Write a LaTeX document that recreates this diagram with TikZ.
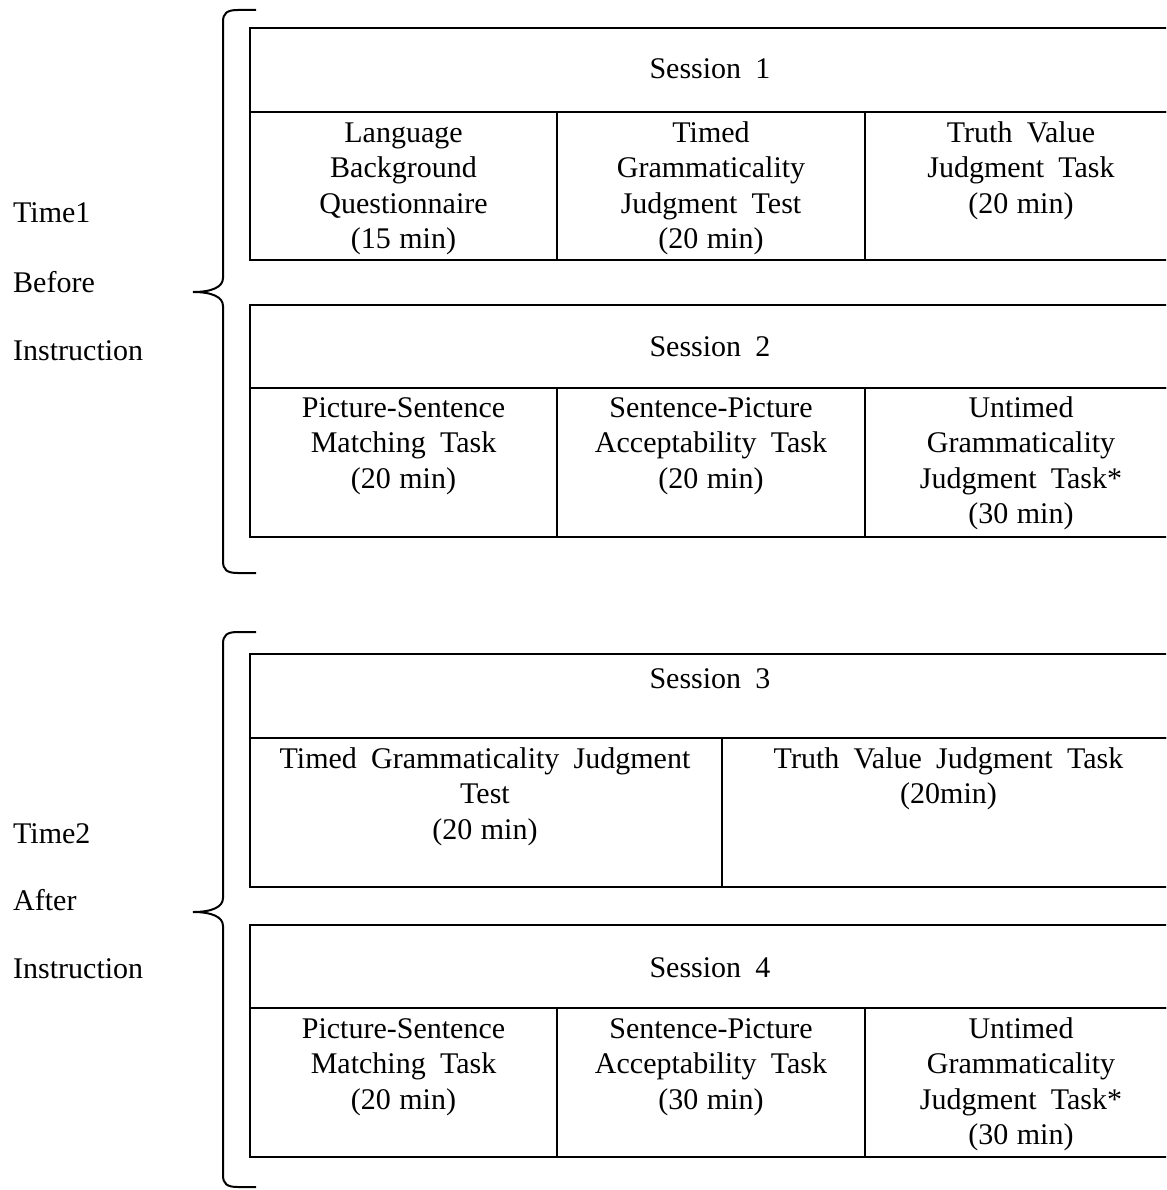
\documentclass[tikz,border=0pt]{standalone}
\usepackage{fontspec}
\setmainfont{Liberation Serif}[WordSpace=1.9]
\newcommand{\firststrut}{\rule{0pt}{24pt}}
\newcommand{\minsp}{\hspace{0.28em}}
\begin{document}
\begin{tikzpicture}[x=1pt,y=-1pt,
  box/.style={draw,line width=2pt,inner sep=0pt,outer sep=0pt,anchor=north west,rectangle},
  celltext/.style={inner sep=0pt,anchor=north,align=center,font=\fontsize{30}{35.5}\selectfont},
  title/.style={inner sep=0pt,anchor=base,font=\fontsize{30}{36}\selectfont},
  side/.style={inner sep=0pt,anchor=base west,font=\fontsize{30}{36}\selectfont},
  brace/.style={draw,line width=2pt}]
\useasboundingbox (0,0) rectangle (1166,1190);
\clip (0,0) rectangle (1166,1190);

% ---------- Session 1 ----------
\node[box,minimum width=925pt,minimum height=84pt] (h1) at (250,28) {};
\node[box,minimum width=307pt,minimum height=148pt] (s1a) at (250,112) {};
\node[box,minimum width=308pt,minimum height=148pt] (s1b) at (557,112) {};
\node[box,minimum width=310pt,minimum height=148pt] (s1c) at (865,112) {};
\node[title] (t1) at (710,79) {Session 1};
\node[celltext] (c1a) at (403.5,118) {\firststrut Language\\Background\\Questionnaire\\(15\minsp min)};
\node[celltext] (c1b) at (711,118) {\firststrut Timed\\Grammaticality\\Judgment Test\\(20\minsp min)};
\node[celltext] (c1c) at (1021,118) {\firststrut Truth Value\\Judgment Task\\(20\minsp min)};

% ---------- Session 2 ----------
\node[box,minimum width=925pt,minimum height=83pt] (h2) at (250,305) {};
\node[box,minimum width=307pt,minimum height=149pt] (s2a) at (250,388) {};
\node[box,minimum width=308pt,minimum height=149pt] (s2b) at (557,388) {};
\node[box,minimum width=310pt,minimum height=149pt] (s2c) at (865,388) {};
\node[title] (t2) at (710,356) {Session 2};
\node[celltext] (c2a) at (403.5,393) {\firststrut Picture-Sentence\\Matching Task\\(20\minsp min)};
\node[celltext] (c2b) at (711,393) {\firststrut Sentence-Picture\\Acceptability Task\\(20\minsp min)};
\node[celltext] (c2c) at (1021,393) {\firststrut Untimed\\Grammaticality\\Judgment Task*\\(30\minsp min)};

% ---------- Session 3 ----------
\node[box,minimum width=925pt,minimum height=84pt] (h3) at (250,654) {};
\node[box,minimum width=472pt,minimum height=149pt] (s3a) at (250,738) {};
\node[box,minimum width=453pt,minimum height=149pt] (s3b) at (722,738) {};
\node[title] (t3) at (710,688) {Session 3};
\node[celltext] (c3a) at (485,744) {\firststrut Timed Grammaticality Judgment\\Test\\(20\minsp min)};
\node[celltext] (c3b) at (948.5,744) {\firststrut Truth Value Judgment Task\\(20min)};

% ---------- Session 4 ----------
\node[box,minimum width=925pt,minimum height=83pt] (h4) at (250,925) {};
\node[box,minimum width=307pt,minimum height=149pt] (s4a) at (250,1008) {};
\node[box,minimum width=308pt,minimum height=149pt] (s4b) at (557,1008) {};
\node[box,minimum width=310pt,minimum height=149pt] (s4c) at (865,1008) {};
\node[title] (t4) at (710,977) {Session 4};
\node[celltext] (c4a) at (403.5,1014) {\firststrut Picture-Sentence\\Matching Task\\(20\minsp min)};
\node[celltext] (c4b) at (711,1014) {\firststrut Sentence-Picture\\Acceptability Task\\(30\minsp min)};
\node[celltext] (c4c) at (1021,1014) {\firststrut Untimed\\Grammaticality\\Judgment Task*\\(30\minsp min)};

% ---------- Side labels ----------
\node[side] (l1a) at (13,223) {Time1};
\node[side] (l1b) at (13,292) {Before};
\node[side] (l1c) at (13,360) {Instruction};
\node[side] (l2a) at (13,843) {Time2};
\node[side] (l2b) at (13,910) {After};
\node[side] (l2c) at (13,978) {Instruction};

% ---------- Braces ----------
\draw[brace] (256,10) -- (238,10) .. controls (227,10) and (223,13) .. (223,22)
  -- (223,278) .. controls (223,287) and (212,292) .. (193,292)
  .. controls (212,292) and (223,297) .. (223,306)
  -- (223,561) .. controls (223,570) and (227,573) .. (238,573) -- (256,573);
\draw[brace] (256,632) -- (238,632) .. controls (227,632) and (223,635) .. (223,644)
  -- (223,898) .. controls (223,907) and (212,912) .. (193,912)
  .. controls (212,912) and (223,917) .. (223,926)
  -- (223,1175) .. controls (223,1184) and (227,1187) .. (238,1187) -- (256,1187);
\end{tikzpicture}
\end{document}
